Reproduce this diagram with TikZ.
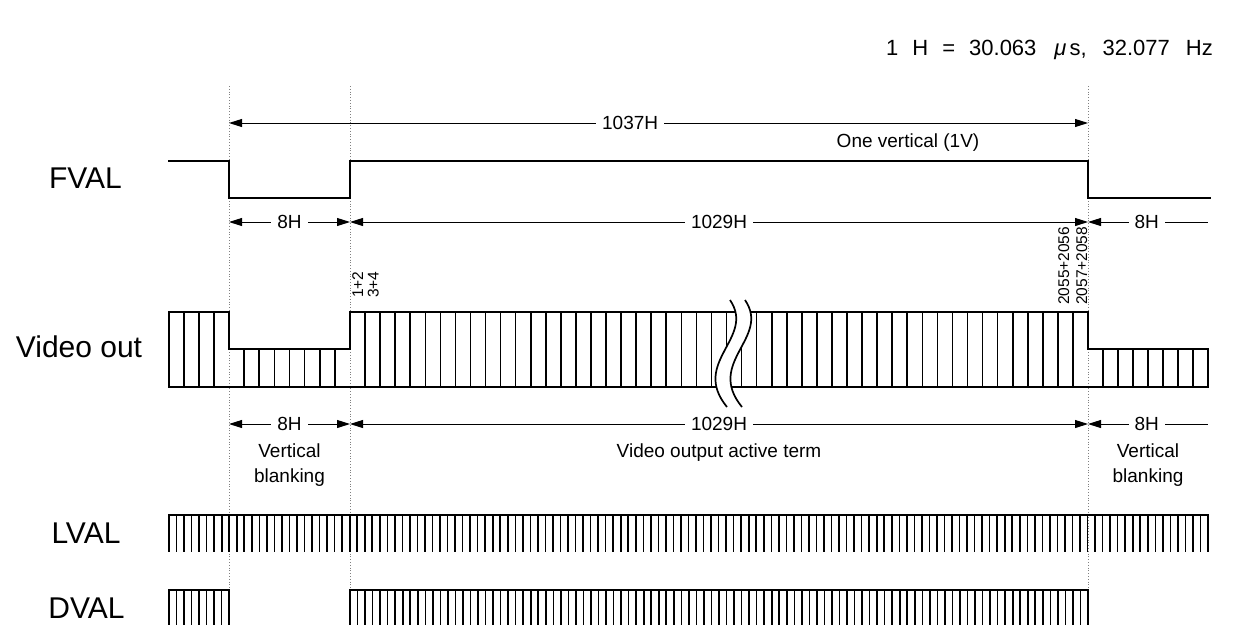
\documentclass[tikz,border=0pt]{standalone}
\usepackage{fontspec}
\setmainfont{Liberation Sans}
\usetikzlibrary{arrows.meta}
\begin{document}
\begin{tikzpicture}[x=1pt,y=-1pt,
  sig/.style={line width=1.7pt, line join=miter, line cap=rect},
  cellline/.style={line width=1.6pt},
  tickline/.style={line width=1.6pt},
  dimline/.style={line width=0.9pt},
  bothtips/.style={{Triangle[length=13pt,width=8pt]}-{Triangle[length=13pt,width=8pt]}},
  lefttip/.style={{Triangle[length=13pt,width=8pt]}-},
  guide/.style={gray, line width=0.8pt, dotted},
  gaplbl/.style={fill=white, inner xsep=6pt, inner ysep=1pt, font=\fontsize{19}{23}\selectfont},
  txt/.style={inner sep=0pt, font=\fontsize{19}{25}\selectfont, align=center},
  big/.style={inner sep=0pt, font=\fontsize{30}{34}\selectfont},
  num/.style={inner sep=0pt, font=\fontsize{15.5}{18}\selectfont, rotate=90, anchor=base west},
]
\useasboundingbox (0,0) rectangle (1239,625);

% header
\node[inner sep=0pt, anchor=base east, font=\fontsize{22}{26}\selectfont] (hdr) at (1213,55)
  {1\hspace{14pt}H\hspace{14pt}=\hspace{14pt}30.063\hspace{18pt}\textit{μ}\hspace{3pt}s,\hspace{16pt}32.077\hspace{16pt}Hz};

% key x positions
\coordinate (gAt) at (229,86);  \coordinate (gAb) at (229,590);
\coordinate (gBt) at (350,86);  \coordinate (gBb) at (350,590);
\coordinate (gCt) at (1088,86); \coordinate (gCb) at (1088,590);

% guides
\draw[guide] (gAt) -- (gAb);
\draw[guide] (gBt) -- (gBb);
\draw[guide] (gCt) -- (gCb);

% signal names
\node[big] (fval) at (85.5,178) {FVAL};
\node[big] (vout) at (79,347) {Video out};
\node[big] (lval) at (86,533) {LVAL};
\node[big] (dval) at (86.5,608) {DVAL};

% 1037H
\coordinate (d1L) at (229,123); \coordinate (d1R) at (1088,123);
\draw[dimline, bothtips] (d1L) -- (d1R) node[gaplbl, pos=0.467] (l1037) {1037H};
\node[txt] (onev) at (908,143) {One vertical (1V)};

% FVAL
\draw[sig] (169,161) -- (229,161) -- (229,198) -- (350,198) -- (350,161) -- (1088,161) -- (1088,198) -- (1210,198);

% upper 8H / 1029H / 8H
\coordinate (d2A) at (229,222); \coordinate (d2B) at (350,222); \coordinate (d2C) at (1088,222); \coordinate (d2D) at (1208,222);
\draw[dimline, bothtips] (d2A) -- (d2B) node[gaplbl, midway] (l8a) {8H};
\draw[dimline, bothtips] (d2B) -- (d2C) node[gaplbl, midway] (l1029a) {1029H};
\draw[dimline, lefttip] (d2C) -- (d2D) node[gaplbl, pos=0.49] (l8b) {8H};

% rotated numbers
\node[num] (n12) at (363,298) {1+2};
\node[num] (n34) at (378.5,298) {3+4};
\node[num] (n2055) at (1069,305) {2055+2056};
\node[num] (n2057) at (1087,305) {2057+2058};

% Video out
\draw[sig] (169,312) -- (229,312) -- (229,349) -- (350,349) -- (350,312) -- (1088,312) -- (1088,349) -- (1208,349) -- (1208,387) -- (169,387) -- cycle;
\foreach \k in {1,...,3} \draw[cellline] ({169+\k*15},312) -- ({169+\k*15},387);
\foreach \k in {1,...,7} \draw[cellline] ({229+\k*15.125},349) -- ({229+\k*15.125},387);
\foreach \k in {1,...,48} \draw[cellline] ({350+\k*15.0612},312) -- ({350+\k*15.0612},387);
\foreach \k in {1,...,7} \draw[cellline] ({1088+\k*15},349) -- ({1088+\k*15},387);

% break
\fill[white] (730,300) .. controls (756,338) and (690,362) .. (727,407)
  -- (742,407) .. controls (705,362) and (771,338) .. (745,300) -- cycle;
\draw[sig, line cap=butt] (730,300) .. controls (756,338) and (690,362) .. (727,407);
\draw[sig, line cap=butt] (745,300) .. controls (771,338) and (705,362) .. (742,407);

% lower 8H / 1029H / 8H
\coordinate (d3A) at (229,424); \coordinate (d3B) at (350,424); \coordinate (d3C) at (1088,424); \coordinate (d3D) at (1208,424);
\draw[dimline, bothtips] (d3A) -- (d3B) node[gaplbl, midway] (l8c) {8H};
\draw[dimline, bothtips] (d3B) -- (d3C) node[gaplbl, midway] (l1029b) {1029H};
\draw[dimline, lefttip] (d3C) -- (d3D) node[gaplbl, pos=0.49] (l8d) {8H};
\node[txt] (vb1) at (289.5,465.5) {Vertical\\blanking};
\node[txt] (vaot) at (719,453) {Video output active term};
\node[txt] (vb2) at (1148,465.5) {Vertical\\blanking};

% LVAL
\draw[sig] (169,515) -- (1208,515);
\foreach \k in {0,...,138} \draw[tickline] ({169+\k*7.5290},515) -- ++(0,37);

% DVAL
\draw[sig] (169,590) -- (229,590);
\foreach \k in {0,...,8} \draw[tickline] ({169+\k*7.5},590) -- ++(0,35);
\draw[sig] (350,590) -- (1088,590);
\foreach \k in {0,...,98} \draw[tickline] ({350+\k*7.5306},590) -- ++(0,35);
\end{tikzpicture}
\end{document}
